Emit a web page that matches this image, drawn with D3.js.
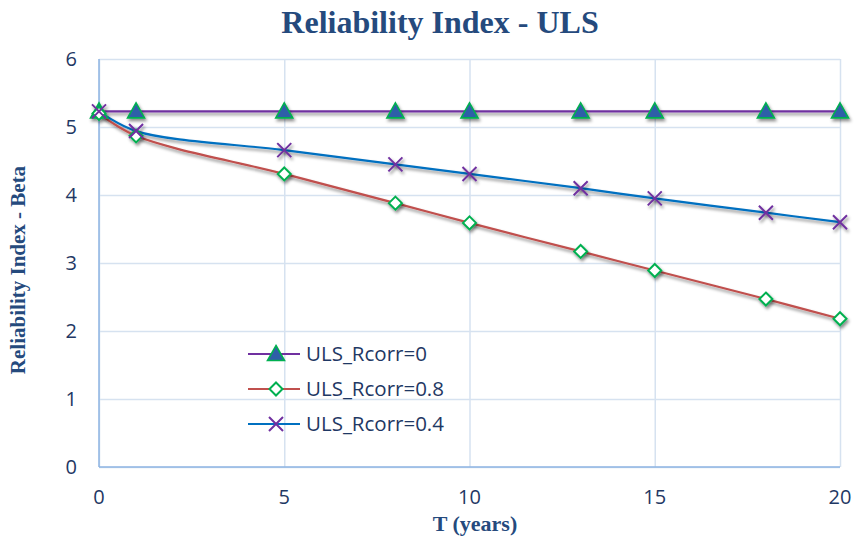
<!DOCTYPE html>
<html>
<head>
<meta charset="utf-8">
<script src="https://cdn.jsdelivr.net/npm/d3@7"></script>
<style>
  body { margin: 0; background: #fff; }
  svg text { font-family: "Open Sans", sans-serif; }
</style>
</head>
<body>
<svg id="chart" width="854" height="540"></svg>
<script>
const years = [0, 1, 5, 8, 10, 13, 15, 18, 20];
const betaR0 = [5.23, 5.23, 5.23, 5.23, 5.23, 5.23, 5.23, 5.23, 5.23];
const betaR08 = [5.2, 4.87, 4.31, 3.88, 3.59, 3.17, 2.89, 2.47, 2.18];
const betaR04 = [5.23, 4.94, 4.66, 4.45, 4.31, 4.1, 3.95, 3.74, 3.6];
const xTicks = [0, 5, 10, 15, 20];
const yTicks = [0, 1, 2, 3, 4, 5, 6];

const series = [
  { name: "ULS_Rcorr=0", values: betaR0, line: "#7030a0", marker: "triangle" },
  { name: "ULS_Rcorr=0.8", values: betaR08, line: "#c0504d", marker: "diamond" },
  { name: "ULS_Rcorr=0.4", values: betaR04, line: "#0070c0", marker: "cross" },
];

const svg = d3.select("#chart");
const plotLeft = 99, plotRight = 840, plotTop = 59, plotBottom = 467;

const x = d3.scaleLinear().domain([0, 20]).range([plotLeft, plotRight]);
const y = d3.scaleLinear().domain([0, 6]).range([plotBottom, plotTop]);

// shadow filter, applied to whole groups
const defs = svg.append("defs");
const f = defs.append("filter").attr("id", "shadow")
  .attr("x", "-10%").attr("y", "-10%").attr("width", "120%").attr("height", "120%");
f.append("feDropShadow").attr("dx", 1.5).attr("dy", 2.5).attr("stdDeviation", 1.8)
  .attr("flood-color", "#000").attr("flood-opacity", 0.45);

// gridlines
svg.append("g")
  .attr("transform", `translate(0,${plotBottom})`)
  .call(d3.axisBottom(x).tickValues(xTicks).tickSize(-(plotBottom - plotTop)).tickFormat(""))
  .call(g => g.select(".domain").remove())
  .call(g => g.selectAll("line").attr("stroke", "#d6e2f0").attr("stroke-width", 1.5));
svg.append("g")
  .attr("transform", `translate(${plotLeft},0)`)
  .call(d3.axisLeft(y).tickValues(yTicks).tickSize(-(plotRight - plotLeft)).tickFormat(""))
  .call(g => g.select(".domain").remove())
  .call(g => g.selectAll("line").attr("stroke", "#d6e2f0").attr("stroke-width", 1.5));

// axis lines
svg.append("line").attr("x1", plotLeft).attr("x2", plotLeft).attr("y1", plotTop).attr("y2", plotBottom)
  .attr("stroke", "#8eb4e3").attr("stroke-width", 1.5);
svg.append("line").attr("x1", plotLeft).attr("x2", plotRight).attr("y1", plotBottom).attr("y2", plotBottom)
  .attr("stroke", "#8eb4e3").attr("stroke-width", 1.5);

// tick labels
const labColor = "#1f3864";
svg.append("g").selectAll("text").data(xTicks).join("text")
  .attr("x", d => x(d)).attr("y", 504)
  .attr("text-anchor", "middle").attr("font-size", 20).attr("fill", labColor)
  .text(d => d);
svg.append("g").selectAll("text").data(yTicks).join("text")
  .attr("x", 77).attr("y", d => y(d)).attr("dy", "0.35em")
  .attr("text-anchor", "end").attr("font-size", 20).attr("fill", labColor)
  .text(d => d);

// titles
const serif = "'Liberation Serif', 'Times New Roman', serif";
svg.append("text").attr("x", 440).attr("y", 33)
  .attr("text-anchor", "middle").attr("font-size", 32).attr("font-weight", "bold")
  .attr("fill", "#254a7d").style("font-family", serif)
  .text("Reliability Index - ULS");
svg.append("text").attr("x", 475).attr("y", 531)
  .attr("text-anchor", "middle").attr("font-size", 22).attr("font-weight", "bold")
  .attr("fill", "#254a7d").style("font-family", serif)
  .text("T (years)");
svg.append("text").attr("transform", "translate(25,270) rotate(-90)")
  .attr("text-anchor", "middle").attr("font-size", 21).attr("font-weight", "bold")
  .attr("fill", "#254a7d").style("font-family", serif)
  .text("Reliability Index - Beta");

// markers
function drawMarker(g, type) {
  if (type === "triangle") {
    g.append("path").attr("d", "M0,-8.5 L8.5,6.5 L-8.5,6.5 Z")
      .attr("fill", "#2f5fa8").attr("stroke", "#00b050").attr("stroke-width", 1.6);
  } else if (type === "diamond") {
    g.append("path").attr("d", "M0,-6.5 L6.5,0 L0,6.5 L-6.5,0 Z")
      .attr("fill", "#fff").attr("stroke", "#00b050").attr("stroke-width", 2);
  } else {
    g.append("path").attr("d", "M-7,-7 L7,7 M-7,7 L7,-7")
      .attr("stroke", "#7030a0").attr("stroke-width", 2);
  }
}

const line = d3.line().x(d => x(d[0])).y(d => y(d[1])).curve(d3.curveCatmullRom.alpha(0.5));

const linesG = svg.append("g").attr("filter", "url(#shadow)");
series.forEach(s => {
  const pts = years.map((t, i) => [t, s.values[i]]);
  linesG.append("path").datum(pts).attr("d", line)
    .attr("fill", "none").attr("stroke", s.line).attr("stroke-width", 2.2);
});
const markersG = svg.append("g").attr("filter", "url(#shadow)");
series.forEach(s => {
  years.forEach((t, i) => {
    const g = markersG.append("g").attr("transform", `translate(${x(t)},${y(s.values[i])})`);
    drawMarker(g, s.marker);
  });
});

// legend
const legendY = [354, 389, 424];
series.forEach((s, i) => {
  const g = svg.append("g").attr("transform", `translate(248,${legendY[i]})`);
  g.append("line").attr("x1", 0).attr("x2", 52).attr("stroke", s.line).attr("stroke-width", 2.2);
  const m = g.append("g").attr("transform", "translate(28,0)");
  drawMarker(m, s.marker);
  g.append("text").attr("x", 58).attr("dy", "0.36em")
    .attr("font-size", 20.5).attr("fill", labColor).text(s.name);
});
</script>
</body>
</html>
